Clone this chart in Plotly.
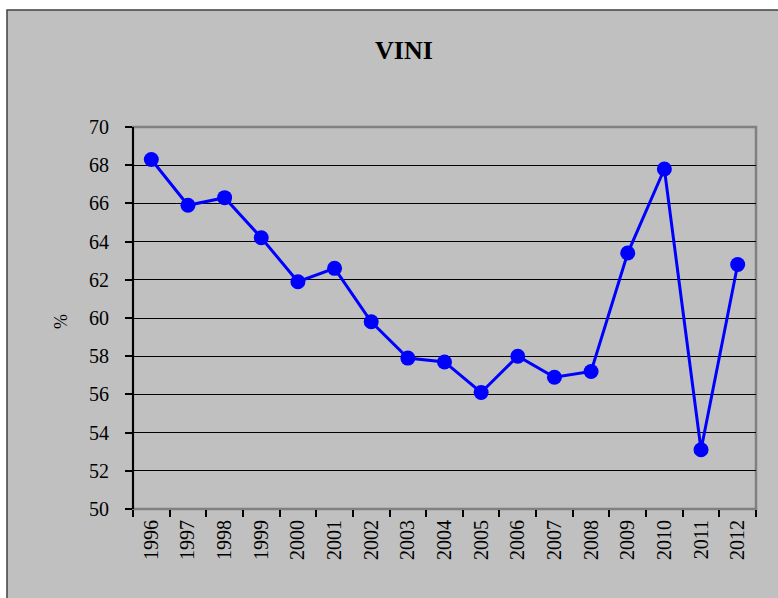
import plotly.graph_objects as go

# VINI series, 1996-2012 (%)
years = [str(y) for y in range(1996, 2013)]
values = [68.3, 65.9, 66.3, 64.2, 61.9, 62.6, 59.8, 57.9, 57.7,
          56.1, 58.0, 56.9, 57.2, 63.4, 67.8, 53.1, 62.8]
y_ticks = list(range(50, 71, 2))

W, H = 778, 598
L, R, T, B = 133, 22, 127, 89
pw, ph = W - L - R, H - T - B

def px_x(px):
    return (px - L) / pw

def px_y(py):
    return (H - B - py) / ph

serif = "Liberation Serif, Times New Roman, serif"

fig = go.Figure()
fig.add_trace(go.Scatter(
    x=years, y=values, mode="lines+markers",
    line=dict(color="#0000FF", width=3),
    marker=dict(color="#0000FF", size=15),
    cliponaxis=False,
))

shapes = [
    # chart area background with dark frame
    dict(type="rect", xref="paper", yref="paper",
         x0=px_x(7), x1=px_x(W + 20), y0=px_y(H + 20), y1=px_y(10),
         fillcolor="#C0C0C0", line=dict(color="#404040", width=1.5), layer="below"),
    # plot area border
    dict(type="rect", xref="paper", yref="paper", x0=0, x1=1, y0=0, y1=1,
         line=dict(color="#808080", width=2.5), layer="below"),
    # left axis line
    dict(type="line", xref="paper", yref="paper", x0=0, x1=0, y0=0, y1=1,
         line=dict(color="#000000", width=2), layer="above"),
]

fig.update_layout(
    width=W, height=H,
    margin=dict(l=L, r=R, t=T, b=B, pad=0),
    paper_bgcolor="white",
    plot_bgcolor="rgba(0,0,0,0)",
    showlegend=False,
    shapes=shapes,
    font=dict(family=serif, color="black", size=20),
    xaxis=dict(
        type="category", tickson="boundaries", range=[-0.5, 16.5],
        showgrid=False, zeroline=False, showline=False,
        ticks="outside", ticklen=7, tickwidth=1.5, tickcolor="#000",
        tickangle=-90, tickfont=dict(family=serif, size=20),
        ticklabelstandoff=6,
    ),
    yaxis=dict(
        range=[50, 70], tickvals=y_ticks,
        showgrid=True, gridcolor="#000000", gridwidth=1,
        zeroline=False, showline=False,
        ticks="outside", ticklen=7, tickwidth=1.5, tickcolor="#000",
        tickfont=dict(family=serif, size=20),
        ticklabelstandoff=12,
    ),
    annotations=[
        dict(text="<b>VINI</b>", xref="paper", yref="paper",
             x=px_x(404), y=px_y(51), showarrow=False,
             font=dict(family=serif, size=26, color="black"),
             xanchor="center", yanchor="middle"),
        dict(text="%", xref="paper", yref="paper",
             x=px_x(61), y=px_y(322), showarrow=False, textangle=-90,
             font=dict(family=serif, size=18, color="black"),
             xanchor="center", yanchor="middle"),
    ],
)

fig.write_html("out.html")
